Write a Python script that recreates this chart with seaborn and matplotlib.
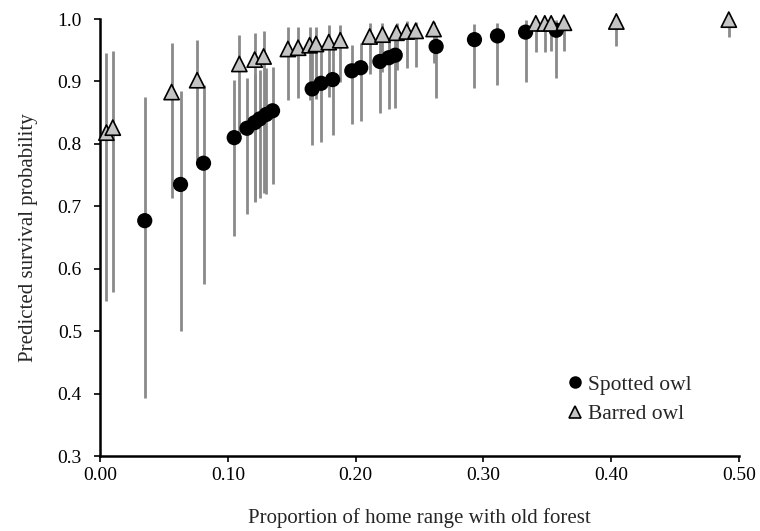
import numpy as np
import pandas as pd
import matplotlib
matplotlib.use("Agg")
import matplotlib.pyplot as plt
import seaborn as sns

# Spotted owl: proportion old forest, predicted survival, lower / upper limits
spotted_x = [0.035, 0.063, 0.081, 0.105, 0.115, 0.121, 0.125, 0.130, 0.135,
             0.166, 0.173, 0.182, 0.197, 0.204, 0.219, 0.226, 0.231,
             0.263, 0.293, 0.311, 0.333, 0.357]
spotted_y = [0.677, 0.735, 0.769, 0.810, 0.825, 0.834, 0.840, 0.847, 0.853,
             0.888, 0.897, 0.903, 0.917, 0.922, 0.932, 0.938, 0.942,
             0.956, 0.967, 0.973, 0.979, 0.982]
spotted_lo = [0.393, 0.501, 0.576, 0.653, 0.687, 0.707, 0.713, 0.720, 0.735,
              0.798, 0.803, 0.814, 0.832, 0.837, 0.850, 0.856, 0.857,
              0.874, 0.889, 0.894, 0.899, 0.905]
spotted_hi = [0.875, 0.884, 0.894, 0.902, 0.906, 0.912, 0.918, 0.921, 0.923,
              0.955, 0.958, 0.961, 0.958, 0.962, 0.968, 0.970, 0.972,
              0.980, 0.992, 0.993, 0.998, 0.998]

# Barred owl
barred_x = [0.005, 0.010, 0.056, 0.076, 0.109, 0.121, 0.128,
            0.147, 0.155, 0.164, 0.169, 0.179, 0.188, 0.211, 0.221,
            0.232, 0.240, 0.247, 0.261, 0.341, 0.348, 0.353, 0.363,
            0.404, 0.492]
barred_y = [0.818, 0.826, 0.883, 0.902, 0.928, 0.935, 0.940,
            0.952, 0.954, 0.958, 0.960, 0.963, 0.966, 0.972, 0.975,
            0.978, 0.980, 0.981, 0.984, 0.993, 0.993, 0.993, 0.994,
            0.996, 0.999]
barred_lo = [0.549, 0.562, 0.713, 0.774, 0.814, 0.708, 0.721,
             0.870, 0.874, 0.870, 0.872, 0.875, 0.899, 0.912, 0.915,
             0.918, 0.921, 0.923, 0.929, 0.947, 0.947, 0.949, 0.948,
             0.957, 0.971]
barred_hi = [0.946, 0.949, 0.961, 0.966, 0.975, 0.977, 0.981,
             0.987, 0.988, 0.988, 0.988, 0.990, 0.990, 0.993, 0.993,
             0.994, 0.997, 0.995, 0.996, 0.999, 0.999, 0.999, 0.999,
             1.000, 1.000]

spotted = pd.DataFrame({"x": spotted_x, "y": spotted_y, "lo": spotted_lo,
                        "hi": spotted_hi, "species": "Spotted owl"})
barred = pd.DataFrame({"x": barred_x, "y": barred_y, "lo": barred_lo,
                       "hi": barred_hi, "species": "Barred owl"})
df = pd.concat([spotted, barred], ignore_index=True)

sns.set_style("ticks")
plt.rcParams["font.family"] = ["Liberation Serif", "DejaVu Serif"]

fig = plt.figure(figsize=(7.6, 5.31), dpi=100)
ax = fig.add_axes([0.1316, 0.1412, 0.8408, 0.8230])

# error bars
ax.vlines(df["x"], df["lo"], df["hi"], color="#8a8a8a", linewidth=2, zorder=1)

sns.scatterplot(data=df, x="x", y="y", hue="species", style="species",
                markers={"Spotted owl": "o", "Barred owl": "^"},
                palette={"Spotted owl": "black", "Barred owl": "#c4c4c4"},
                size="species", sizes={"Spotted owl": 95, "Barred owl": 120},
                edgecolor="black", linewidth=1.2, ax=ax, zorder=3)
for coll in ax.collections:
    coll.set_clip_on(False)

ax.set_xlim(0, 0.5)
ax.set_ylim(0.3, 1.0)
ax.set_xticks(np.arange(0, 0.51, 0.1))
ax.set_xticklabels(["0.00", "0.10", "0.20", "0.30", "0.40", "0.50"])
ax.set_yticks(np.arange(0.3, 1.01, 0.1))
ax.set_yticklabels(["0.3", "0.4", "0.5", "0.6", "0.7", "0.8", "0.9", "1.0"])
ax.tick_params(axis="both", labelsize=14, length=4, width=1.2, color="black",
               labelcolor="black")
ax.tick_params(axis="y", pad=9)
ax.tick_params(axis="x", pad=4)
for side in ["left", "bottom"]:
    ax.spines[side].set_linewidth(1.8)
    ax.spines[side].set_color("black")
sns.despine(ax=ax)

ax.set_xlabel("Proportion of home range with old forest", fontsize=15,
              labelpad=17)
ax.set_ylabel("Predicted survival probability", fontsize=15, labelpad=14)

handles, labels = ax.get_legend_handles_labels()
ax.legend(handles=handles, labels=labels, loc="center left",
          bbox_to_anchor=(0.733, 0.129), frameon=False, fontsize=15.5,
          handlelength=0.6, handletextpad=0.3, labelspacing=0.44,
          borderpad=0, borderaxespad=0, markerscale=0.8)

fig.savefig("out.png", dpi=100)
